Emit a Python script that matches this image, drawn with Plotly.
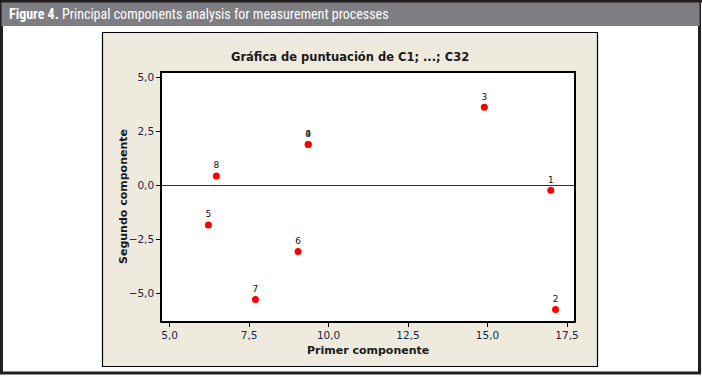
import plotly.graph_objects as go

# Data
obs_labels = ["1", "2", "3", "4", "5", "6", "7", "8", "9"]
primer = [16.99, 17.14, 14.90, 9.36, 6.22, 9.04, 7.70, 6.47, 9.36]
segundo = [-0.23, -5.75, 3.60, 1.88, -1.84, -3.07, -5.29, 0.42, 1.88]
x_ticks = [5.0, 7.5, 10.0, 12.5, 15.0, 17.5]
y_ticks = [-5.0, -2.5, 0.0, 2.5, 5.0]

W, H = 702, 377
L, R, T, B = 162, 574, 73, 321  # plot area in pixels


def px(x):
    return (x - L) / (R - L)


def py(y):
    return (B - y) / (B - T)


fig = go.Figure()
fig.add_trace(go.Scatter(
    x=primer, y=segundo, mode="markers+text", text=obs_labels,
    textposition="top center",
    textfont=dict(family="DejaVu Sans", size=9, color="#111"),
    marker=dict(color="#ff0000", size=7),
    cliponaxis=False, hoverinfo="skip",
))

shapes = [
    # outer frame
    dict(type="rect", xref="paper", yref="paper", x0=px(1.5), x1=px(699.5), y0=py(1), y1=py(373),
         line=dict(color="#231f20", width=3), fillcolor="white", layer="below"),
    # header band
    dict(type="rect", xref="paper", yref="paper", x0=px(1.5), x1=px(699.5), y0=py(0), y1=py(26),
         line=dict(width=0), fillcolor="#7e7d82", layer="below"),
    dict(type="line", xref="paper", yref="paper", x0=px(0), x1=px(702), y0=py(1), y1=py(1),
         line=dict(color="#231f20", width=3), layer="below"),
    # beige panel
    dict(type="rect", xref="paper", yref="paper", x0=px(102.5), x1=px(597.5), y0=py(32.5), y1=py(366.5),
         line=dict(color="#000", width=1.2), fillcolor="#eeeadd", layer="below"),
    # white plot area
    dict(type="rect", xref="paper", yref="paper", x0=0, x1=1, y0=0, y1=1,
         line=dict(width=0), fillcolor="white", layer="below"),
]

annotations = [
    dict(text="<b>Figure 4.</b> Principal components analysis for measurement processes",
         xref="paper", yref="paper", x=px(7), y=py(14), xanchor="left", yanchor="middle",
         showarrow=False,
         font=dict(family="Liberation Sans Narrow, Roboto Condensed, Arial Narrow, sans-serif",
                   size=14, color="white")),
    dict(text="<b>Gráfica de puntuación de C1; ...; C32</b>",
         xref="paper", yref="paper", x=px(350), y=py(57), xanchor="center", yanchor="middle",
         showarrow=False, font=dict(family="DejaVu Sans", size=11.5, color="#1a1a1a")),
    dict(text="<b>Primer componente</b>",
         xref="paper", yref="paper", x=px(368), y=py(350), xanchor="center", yanchor="middle",
         showarrow=False, font=dict(family="DejaVu Sans", size=11, color="#1a1a1a")),
    dict(text="<b>Segundo componente</b>", textangle=-90,
         xref="paper", yref="paper", x=px(123), y=py(197), xanchor="center", yanchor="middle",
         showarrow=False, font=dict(family="DejaVu Sans", size=11, color="#1a1a1a")),
]

axis_common = dict(
    showline=True, linecolor="black", linewidth=1.5, mirror=True,
    ticks="outside", ticklen=4, tickcolor="black", tickwidth=1,
    showgrid=False, tickformat=".1f",
    tickfont=dict(family="DejaVu Sans", size=10.5, color="#1b1f4a"),
)

fig.update_layout(
    width=W, height=H,
    margin=dict(l=L, r=W - R, t=T, b=H - B),
    paper_bgcolor="white", plot_bgcolor="rgba(0,0,0,0)",
    separators=",.",
    showlegend=False,
    shapes=shapes, annotations=annotations,
    xaxis=dict(axis_common, range=[4.76, 17.72], tickvals=x_ticks, zeroline=False),
    yaxis=dict(axis_common, range=[-6.28, 5.185], tickvals=y_ticks,
               zeroline=True, zerolinecolor="#333", zerolinewidth=1),
)

fig.write_html("out.html", config={"displayModeBar": False},
               post_script="document.body.style.margin='0';")
